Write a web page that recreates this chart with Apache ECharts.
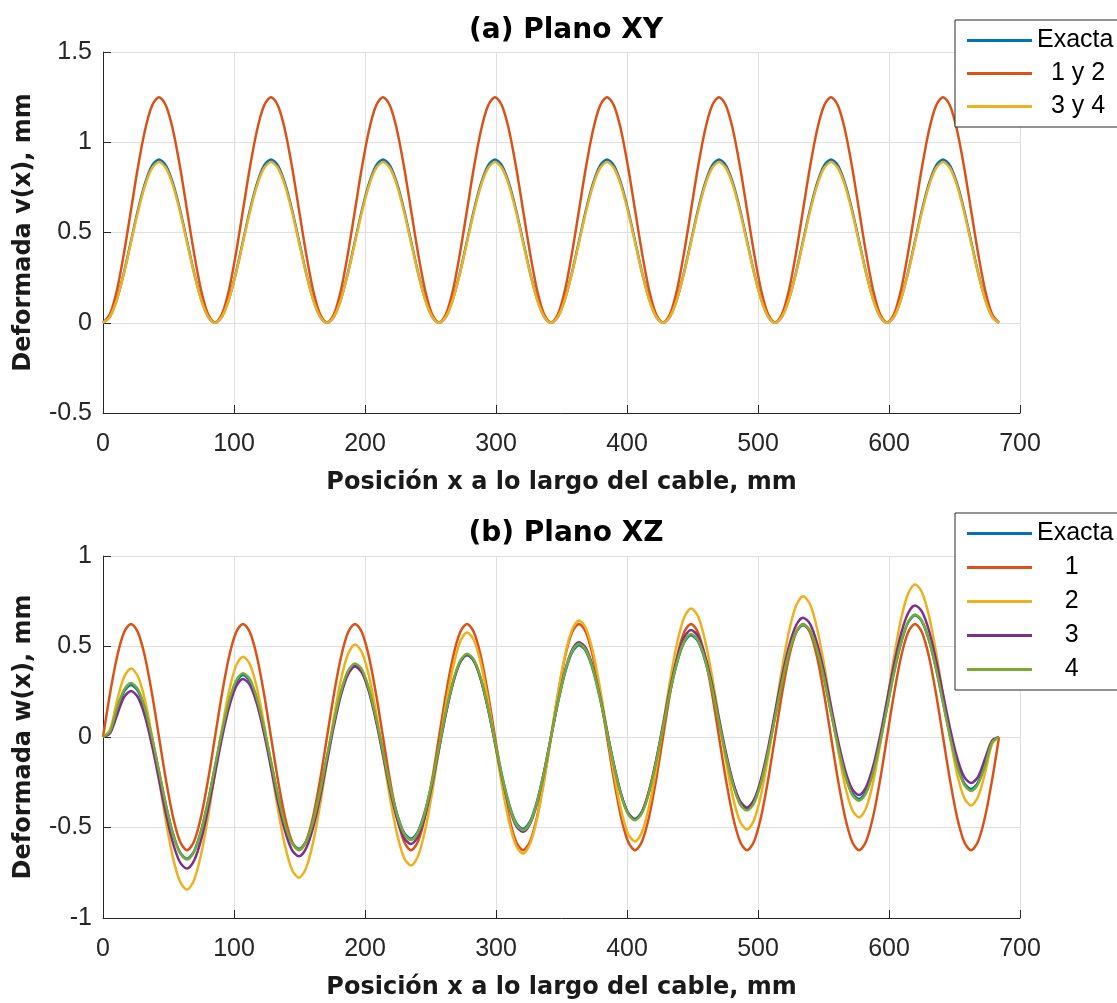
<!DOCTYPE html>
<html><head><meta charset="utf-8">
<script src="https://cdn.jsdelivr.net/npm/echarts@6/dist/echarts.min.js"></script>
<style>html,body{margin:0;padding:0;background:#fff}#c{width:1117px;height:1003px}</style>
</head><body><div id="c"></div>
<script>
// ---------- DATA ----------
// sample positions along the cable (mm)
const xPos = [
  0,5.34,10.69,16.03,21.38,26.72,32.06,37.41,42.75,48.09,53.44,58.78,64.13,69.47,74.81,80.16,
  85.5,90.84,96.19,101.53,106.88,112.22,117.56,122.91,128.25,133.59,138.94,144.28,149.63,154.97,160.31,165.66,
  171,176.34,181.69,187.03,192.38,197.72,203.06,208.41,213.75,219.09,224.44,229.78,235.13,240.47,245.81,251.16,
  256.5,261.84,267.19,272.53,277.88,283.22,288.56,293.91,299.25,304.59,309.94,315.28,320.63,325.97,331.31,336.66,
  342,347.34,352.69,358.03,363.38,368.72,374.06,379.41,384.75,390.09,395.44,400.78,406.13,411.47,416.81,422.16,
  427.5,432.84,438.19,443.53,448.88,454.22,459.56,464.91,470.25,475.59,480.94,486.28,491.63,496.97,502.31,507.66,
  513,518.34,523.69,529.03,534.38,539.72,545.06,550.41,555.75,561.09,566.44,571.78,577.13,582.47,587.81,593.16,
  598.5,603.84,609.19,614.53,619.88,625.22,630.56,635.91,641.25,646.59,651.94,657.28,662.63,667.97,673.31,678.66,
  684];

// (a) Plano XY : v(x)
const vExacta = [
  0,0.034,0.133,0.279,0.453,0.626,0.772,0.871,0.905,0.871,0.772,0.626,0.453,0.279,0.133,0.034,
  0,0.034,0.133,0.279,0.453,0.626,0.772,0.871,0.905,0.871,0.772,0.626,0.453,0.279,0.133,0.034,
  0,0.034,0.133,0.279,0.453,0.626,0.772,0.871,0.905,0.871,0.772,0.626,0.453,0.279,0.133,0.034,
  0,0.034,0.133,0.279,0.453,0.626,0.772,0.871,0.905,0.871,0.772,0.626,0.453,0.279,0.133,0.034,
  0,0.034,0.133,0.279,0.453,0.626,0.772,0.871,0.905,0.871,0.772,0.626,0.453,0.279,0.133,0.034,
  0,0.034,0.133,0.279,0.453,0.626,0.772,0.871,0.905,0.871,0.772,0.626,0.453,0.279,0.133,0.034,
  0,0.034,0.133,0.279,0.453,0.626,0.772,0.871,0.905,0.871,0.772,0.626,0.453,0.279,0.133,0.034,
  0,0.034,0.133,0.279,0.453,0.626,0.772,0.871,0.905,0.871,0.772,0.626,0.453,0.279,0.133,0.034,
  0];
const v12 = [
  0,0.048,0.183,0.386,0.625,0.864,1.067,1.202,1.25,1.202,1.067,0.864,0.625,0.386,0.183,0.048,
  0,0.048,0.183,0.386,0.625,0.864,1.067,1.202,1.25,1.202,1.067,0.864,0.625,0.386,0.183,0.048,
  0,0.048,0.183,0.386,0.625,0.864,1.067,1.202,1.25,1.202,1.067,0.864,0.625,0.386,0.183,0.048,
  0,0.048,0.183,0.386,0.625,0.864,1.067,1.202,1.25,1.202,1.067,0.864,0.625,0.386,0.183,0.048,
  0,0.048,0.183,0.386,0.625,0.864,1.067,1.202,1.25,1.202,1.067,0.864,0.625,0.386,0.183,0.048,
  0,0.048,0.183,0.386,0.625,0.864,1.067,1.202,1.25,1.202,1.067,0.864,0.625,0.386,0.183,0.048,
  0,0.048,0.183,0.386,0.625,0.864,1.067,1.202,1.25,1.202,1.067,0.864,0.625,0.386,0.183,0.048,
  0,0.048,0.183,0.386,0.625,0.864,1.067,1.202,1.25,1.202,1.067,0.864,0.625,0.386,0.183,0.048,
  0];
const v34 = [
  0,0.034,0.130,0.275,0.445,0.615,0.760,0.856,0.890,0.856,0.760,0.615,0.445,0.275,0.130,0.034,
  0,0.034,0.130,0.275,0.445,0.615,0.760,0.856,0.890,0.856,0.760,0.615,0.445,0.275,0.130,0.034,
  0,0.034,0.130,0.275,0.445,0.615,0.760,0.856,0.890,0.856,0.760,0.615,0.445,0.275,0.130,0.034,
  0,0.034,0.130,0.275,0.445,0.615,0.760,0.856,0.890,0.856,0.760,0.615,0.445,0.275,0.130,0.034,
  0,0.034,0.130,0.275,0.445,0.615,0.760,0.856,0.890,0.856,0.760,0.615,0.445,0.275,0.130,0.034,
  0,0.034,0.130,0.275,0.445,0.615,0.760,0.856,0.890,0.856,0.760,0.615,0.445,0.275,0.130,0.034,
  0,0.034,0.130,0.275,0.445,0.615,0.760,0.856,0.890,0.856,0.760,0.615,0.445,0.275,0.130,0.034,
  0,0.034,0.130,0.275,0.445,0.615,0.760,0.856,0.890,0.856,0.760,0.615,0.445,0.275,0.130,0.034,
  0];

// (b) Plano XZ : w(x)
const wExacta = [
  0,0.03,0.15,0.25,0.287,0.253,0.149,-0.007,-0.192,-0.378,-0.534,-0.638,-0.672,-0.631,-0.520,-0.357,
  -0.165,0.027,0.191,0.301,0.342,0.308,0.204,0.048,-0.137,-0.323,-0.479,-0.583,-0.617,-0.576,-0.465,-0.302,
  -0.110,0.082,0.246,0.356,0.397,0.363,0.259,0.103,-0.082,-0.268,-0.424,-0.528,-0.562,-0.521,-0.410,-0.247,
  -0.055,0.137,0.300,0.411,0.452,0.418,0.314,0.158,-0.027,-0.213,-0.369,-0.473,-0.507,-0.466,-0.355,-0.192,
  0,0.192,0.355,0.466,0.507,0.473,0.369,0.213,0.027,-0.158,-0.314,-0.418,-0.452,-0.411,-0.300,-0.137,
  0.055,0.247,0.410,0.521,0.562,0.528,0.424,0.268,0.082,-0.103,-0.259,-0.363,-0.397,-0.356,-0.246,-0.082,
  0.110,0.302,0.465,0.576,0.617,0.583,0.479,0.323,0.137,-0.048,-0.204,-0.308,-0.342,-0.301,-0.191,-0.027,
  0.165,0.357,0.520,0.631,0.672,0.638,0.534,0.378,0.192,0.007,-0.149,-0.253,-0.287,-0.25,-0.15,-0.03,
  0];
const w1 = [
  0,0.239,0.442,0.577,0.625,0.577,0.442,0.239,0,-0.239,-0.442,-0.577,-0.625,-0.577,-0.442,-0.239,
  0,0.239,0.442,0.577,0.625,0.577,0.442,0.239,0,-0.239,-0.442,-0.577,-0.625,-0.577,-0.442,-0.239,
  0,0.239,0.442,0.577,0.625,0.577,0.442,0.239,0,-0.239,-0.442,-0.577,-0.625,-0.577,-0.442,-0.239,
  0,0.239,0.442,0.577,0.625,0.577,0.442,0.239,0,-0.239,-0.442,-0.577,-0.625,-0.577,-0.442,-0.239,
  0,0.239,0.442,0.577,0.625,0.577,0.442,0.239,0,-0.239,-0.442,-0.577,-0.625,-0.577,-0.442,-0.239,
  0,0.239,0.442,0.577,0.625,0.577,0.442,0.239,0,-0.239,-0.442,-0.577,-0.625,-0.577,-0.442,-0.239,
  0,0.239,0.442,0.577,0.625,0.577,0.442,0.239,0,-0.239,-0.442,-0.577,-0.625,-0.577,-0.442,-0.239,
  0,0.239,0.442,0.577,0.625,0.577,0.442,0.239,0,-0.239,-0.442,-0.577,-0.625,-0.577,-0.442,-0.239,
  0];
const w2 = [
  0,0.04,0.20,0.33,0.378,0.334,0.203,0.003,-0.233,-0.468,-0.668,-0.799,-0.843,-0.791,-0.651,-0.443,
  -0.199,0.045,0.252,0.393,0.444,0.401,0.269,0.070,-0.166,-0.402,-0.601,-0.733,-0.777,-0.725,-0.585,-0.377,
  -0.133,0.111,0.319,0.459,0.511,0.467,0.335,0.136,-0.100,-0.336,-0.535,-0.667,-0.710,-0.658,-0.518,-0.311,
  -0.066,0.178,0.385,0.525,0.577,0.534,0.402,0.203,-0.033,-0.269,-0.468,-0.600,-0.644,-0.592,-0.452,-0.244,
  0,0.244,0.452,0.592,0.644,0.600,0.468,0.269,0.033,-0.203,-0.402,-0.534,-0.577,-0.525,-0.385,-0.178,
  0.066,0.311,0.518,0.658,0.710,0.667,0.535,0.336,0.100,-0.136,-0.335,-0.467,-0.511,-0.459,-0.319,-0.111,
  0.133,0.377,0.585,0.725,0.777,0.733,0.601,0.402,0.166,-0.070,-0.269,-0.401,-0.444,-0.393,-0.252,-0.045,
  0.199,0.443,0.651,0.791,0.843,0.799,0.668,0.468,0.233,-0.003,-0.203,-0.334,-0.378,-0.33,-0.20,-0.04,
  0];
const w3 = [
  0,0.02,0.12,0.22,0.254,0.219,0.114,-0.047,-0.236,-0.426,-0.587,-0.692,-0.727,-0.684,-0.570,-0.401,
  -0.203,-0.004,0.164,0.278,0.321,0.287,0.181,0.021,-0.169,-0.359,-0.519,-0.625,-0.659,-0.616,-0.502,-0.333,
  -0.135,0.063,0.232,0.346,0.389,0.354,0.249,0.089,-0.101,-0.291,-0.451,-0.557,-0.591,-0.549,-0.435,-0.266,
  -0.068,0.131,0.299,0.414,0.456,0.422,0.316,0.156,-0.034,-0.224,-0.384,-0.490,-0.524,-0.481,-0.367,-0.198,
  0,0.198,0.367,0.481,0.524,0.490,0.384,0.224,0.034,-0.156,-0.316,-0.422,-0.456,-0.414,-0.299,-0.131,
  0.068,0.266,0.435,0.549,0.591,0.557,0.451,0.291,0.101,-0.089,-0.249,-0.354,-0.389,-0.346,-0.232,-0.063,
  0.135,0.333,0.502,0.616,0.659,0.625,0.519,0.359,0.169,-0.021,-0.181,-0.287,-0.321,-0.278,-0.164,0.004,
  0.203,0.401,0.570,0.684,0.727,0.692,0.587,0.426,0.236,0.047,-0.114,-0.219,-0.254,-0.22,-0.12,-0.02,
  0];
const w4 = [
  0,0.03,0.16,0.26,0.298,0.263,0.158,-0.001,-0.189,-0.378,-0.537,-0.642,-0.677,-0.635,-0.523,-0.357,
  -0.162,0.033,0.199,0.311,0.352,0.318,0.212,0.053,-0.135,-0.324,-0.483,-0.588,-0.623,-0.581,-0.469,-0.303,
  -0.108,0.087,0.253,0.365,0.406,0.372,0.266,0.107,-0.081,-0.270,-0.429,-0.534,-0.569,-0.527,-0.415,-0.249,
  -0.054,0.141,0.307,0.419,0.460,0.426,0.321,0.161,-0.027,-0.215,-0.375,-0.480,-0.515,-0.473,-0.361,-0.195,
  0,0.195,0.361,0.473,0.515,0.480,0.375,0.215,0.027,-0.161,-0.321,-0.426,-0.460,-0.419,-0.307,-0.141,
  0.054,0.249,0.415,0.527,0.569,0.534,0.429,0.270,0.081,-0.107,-0.266,-0.372,-0.406,-0.365,-0.253,-0.087,
  0.108,0.303,0.469,0.581,0.623,0.588,0.483,0.324,0.135,-0.053,-0.212,-0.318,-0.352,-0.311,-0.199,-0.033,
  0.162,0.357,0.523,0.635,0.677,0.642,0.537,0.378,0.189,0.001,-0.158,-0.263,-0.298,-0.26,-0.16,-0.03,
  0];

const titles = ['(a) Plano XY', '(b) Plano XZ'];
const xName = 'Posición x a lo largo del cable, mm';
const yNames = ['Deformada v(x), mm', 'Deformada w(x), mm'];
const topNames = ['Exacta', '1 y 2', '3 y 4'];
const botNames = ['Exacta', '1', '2', '3', '4'];

// ---------- STYLE ----------
const FONT = 'Liberation Sans, Arial, Helvetica, sans-serif';
const BFONT = 'DejaVu Sans, Liberation Sans, sans-serif';
const C = {blue:'#0072BD', orange:'#D95319', yellow:'#EDB120', purple:'#7E2F8E', green:'#77AC30'};
const AX = '#262626', GRID = '#dfdfdf';

function pairs(xs, ys){ return xs.map((x,i)=>[x, ys[i]]); }

function xAxisCfg(idx){
  return {type:'value', gridIndex:idx, min:0, max:700, interval:100,
    name:xName, nameLocation:'middle', nameGap:58,
    nameTextStyle:{fontFamily:BFONT, fontWeight:'bold', fontSize:24, color:'#1a1a1a'},
    axisLine:{show:true, onZero:false, lineStyle:{color:AX, width:1}},
    axisTick:{show:true, inside:true, length:8, lineStyle:{color:AX}},
    axisLabel:{fontFamily:FONT, fontSize:25, color:AX, margin:19},
    splitLine:{show:true, lineStyle:{color:GRID, width:1}}};
}
function yAxisCfg(idx, min, max){
  return {type:'value', gridIndex:idx, min:min, max:max, interval:0.5,
    name:yNames[idx], nameLocation:'middle', nameGap:67, nameRotate:90,
    nameTextStyle:{fontFamily:BFONT, fontWeight:'bold', fontSize:24, color:'#1a1a1a'},
    axisLine:{show:true, onZero:false, lineStyle:{color:AX, width:1}},
    axisTick:{show:true, inside:true, length:8, lineStyle:{color:AX}},
    axisLabel:{fontFamily:FONT, fontSize:25, color:AX, margin:11},
    splitLine:{show:true, lineStyle:{color:GRID, width:1}}};
}
function line(name, xs, ys, color, gi){
  return {type:'line', name:name, xAxisIndex:gi, yAxisIndex:gi, data:pairs(xs, ys),
    smooth:0.3, symbol:'none', showSymbol:false, clip:true,
    lineStyle:{color:color, width:2.5}, itemStyle:{color:color}};
}
function legendCfg(names, top, gap, pad){
  return {orient:'vertical', left:955, top:top, data:names,
    icon:'rect', itemWidth:65, itemHeight:3, itemGap:gap,
    padding:[8, 10, 8, 12], backgroundColor:'#fff', borderColor:AX, borderWidth:1,
    formatter: n => n === 'Exacta' ? n : pad + n,
    textStyle:{fontFamily:FONT, fontSize:25, color:'#000', lineHeight:25},
    selectedMode:false};
}

const chart = echarts.init(document.getElementById('c'), null, {renderer:'canvas'});
chart.setOption({
  animation:false,
  backgroundColor:'#fff',
  title:[
    {text:titles[0], left:561, top:12, textAlign:'center',
     textStyle:{fontFamily:BFONT, fontWeight:'bold', fontSize:28, color:'#000'}},
    {text:titles[1], left:561, top:515, textAlign:'center',
     textStyle:{fontFamily:BFONT, fontWeight:'bold', fontSize:28, color:'#000'}}
  ],
  grid:[
    {left:103, top:52, width:917, height:361, containLabel:false},
    {left:103, top:556, width:917, height:362, containLabel:false}
  ],
  xAxis:[xAxisCfg(0), xAxisCfg(1)],
  yAxis:[yAxisCfg(0, -0.5, 1.5), yAxisCfg(1, -1, 1)],
  legend:[legendCfg(topNames, 20, 8, '  '), legendCfg(botNames, 513, 9, '    ')],
  series:[
    line('Exacta', xPos, vExacta, C.blue, 0),
    line('1 y 2', xPos, v12, C.orange, 0),
    line('3 y 4', xPos, v34, C.yellow, 0),
    line('Exacta', xPos, wExacta, C.blue, 1),
    line('1', xPos, w1, C.orange, 1),
    line('2', xPos, w2, C.yellow, 1),
    line('3', xPos, w3, C.purple, 1),
    line('4', xPos, w4, C.green, 1)
  ]
});
</script></body></html>
